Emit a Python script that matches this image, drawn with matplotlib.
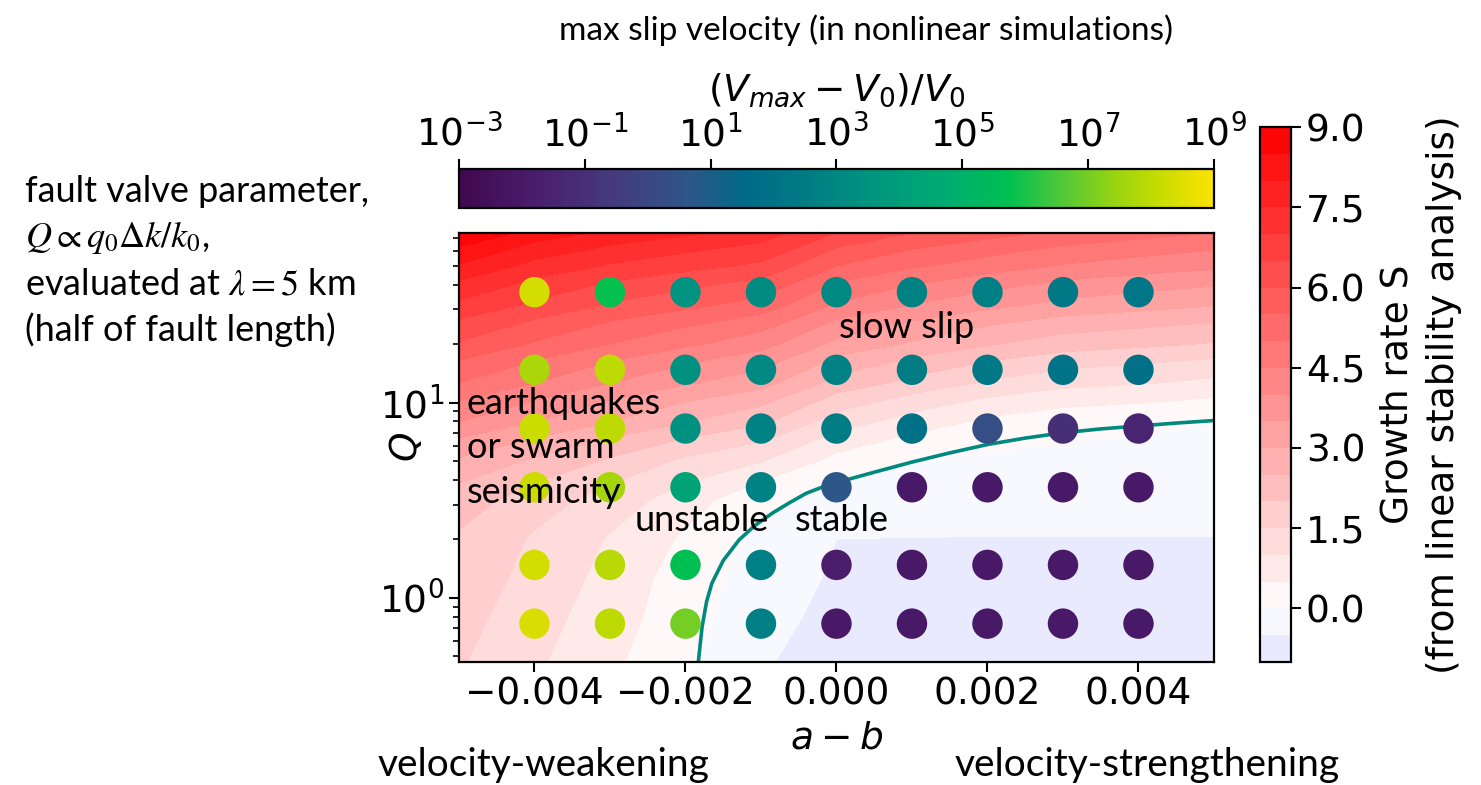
import numpy as np
import matplotlib
matplotlib.use("Agg")
import matplotlib.pyplot as plt
from matplotlib.colors import LogNorm, LinearSegmentedColormap

# ---- growth rate field S ----
grid_ab = [-0.005, -0.004, -0.003, -0.002, -0.001, 0.0, 0.001, 0.002, 0.003, 0.004, 0.005]
grid_logQ = [-0.33, -0.1, 0.1, 0.3, 0.5, 0.7, 0.9, 1.1, 1.3, 1.5, 1.7, 1.87]
# rows follow grid_logQ, columns follow grid_ab
S_rows = [
    [1.55, 1.08, 0.60, 0.09, -0.45, -0.72, -0.82, -0.90, -0.95, -0.97, -0.98],
    [1.69, 1.21, 0.73, 0.20, -0.33, -0.64, -0.71, -0.76, -0.79, -0.80, -0.82],
    [1.82, 1.33, 0.84, 0.25, -0.25, -0.56, -0.61, -0.63, -0.65, -0.66, -0.66],
    [1.94, 1.44, 0.96, 0.42, -0.12, -0.50, -0.51, -0.51, -0.51, -0.51, -0.51],
    [2.25, 1.75, 1.27, 0.75, 0.11, -0.14, -0.26, -0.30, -0.32, -0.33, -0.34],
    [2.92, 2.42, 1.92, 1.40, 1.03, 0.33, 0.00, -0.09, -0.14, -0.15, -0.17],
    [4.00, 3.50, 3.00, 2.52, 2.10, 1.26, 0.77, 0.39, 0.19, 0.10, -0.01],
    [5.00, 4.50, 4.00, 3.56, 3.20, 2.32, 1.85, 1.44, 1.16, 1.04, 0.88],
    [5.95, 5.45, 5.00, 4.60, 4.20, 3.38, 2.93, 2.55, 2.26, 2.12, 1.96],
    [6.90, 6.40, 5.95, 5.64, 5.30, 4.44, 4.00, 3.65, 3.36, 3.20, 3.04],
    [7.95, 7.35, 6.95, 6.68, 6.40, 5.50, 5.08, 4.76, 4.46, 4.28, 4.12],
    [9.00, 8.30, 7.90, 7.60, 7.30, 6.50, 6.00, 5.70, 5.40, 5.20, 5.00],
]

# ---- stability boundary S = 0 ----
line_ab = [-0.00185, -0.00183, -0.00178, -0.00172, -0.00165, -0.00150, -0.00129,
           -0.00108, -0.00085, -0.00062, -0.0004, -0.0002, 0.0, 0.0005, 0.001,
           0.0015, 0.002, 0.0025, 0.003, 0.0035, 0.004, 0.0045, 0.005]
line_logQ = [-0.40, -0.33, -0.15, -0.02, 0.074, 0.19, 0.296, 0.37, 0.433, 0.487,
             0.535, 0.565, 0.59, 0.643, 0.695, 0.742, 0.785, 0.818, 0.845, 0.865,
             0.880, 0.895, 0.908]

# ---- nonlinear simulations ----
sim_ab = [-0.004, -0.003, -0.002, -0.001, 0.0, 0.001, 0.002, 0.003, 0.004]
sim_Q = [0.736, 1.472, 3.68, 7.36, 14.72, 36.8]
# log10((Vmax - V0)/V0), rows follow sim_Q
vmax_exp = [
    [8.4, 8.0, 7.0, 2.6, -2.0, -2.0, -2.0, -2.0, -2.0],
    [8.3, 7.9, 5.7, 2.6, -1.8, -2.0, -2.0, -2.0, -2.0],
    [8.2, 7.6, 4.3, 2.7, 0.7, -2.0, -2.0, -2.0, -2.0],
    [8.2, 8.0, 3.4, 2.7, 2.5, 1.9, 0.3, -1.0, -1.5],
    [7.7, 8.0, 3.4, 3.0, 2.7, 2.5, 2.3, 2.1, 1.9],
    [8.3, 5.8, 3.5, 3.2, 3.0, 2.7, 2.6, 2.3, 2.2],
]

S_levels = np.linspace(-1, 9, 21)
S_ticks = [0.0, 1.5, 3.0, 4.5, 6.0, 7.5, 9.0]
v_ticks = [1e-3, 1e-1, 1e1, 1e3, 1e5, 1e7, 1e9]

vcmap = LinearSegmentedColormap.from_list("vmax", [
    (0.00, "#40084f"), (0.10, "#4a1d6c"), (0.20, "#45397c"), (0.30, "#2f5588"),
    (0.38, "#006a88"), (0.45, "#007a85"), (0.55, "#00957f"), (0.65, "#00ad70"),
    (0.73, "#00c050"), (0.80, "#50c838"), (0.87, "#98d410"), (0.93, "#c8dc00"),
    (1.00, "#fce300")])

plt.rcParams["font.family"] = "DejaVu Sans"
plt.rcParams["mathtext.fontset"] = "dejavusans"
TXT = "Lato"
fs = 27      # DejaVu ticks and labels
fs_txt = 26  # annotations

fig = plt.figure(figsize=(14.81, 7.85), dpi=100)
ax = fig.add_axes([0.3099, 0.1567, 0.5098, 0.5465])

AB, LQ = np.meshgrid(grid_ab, grid_logQ)
cf = ax.contourf(AB, 10.0 ** LQ, np.array(S_rows), levels=S_levels,
                 cmap="bwr", vmin=-9, vmax=9)
ax.plot(line_ab, 10.0 ** np.array(line_logQ), color="#00897e", lw=2.6, zorder=2)

SX, SQ = np.meshgrid(sim_ab, sim_Q)
sc = ax.scatter(SX.ravel(), SQ.ravel(), c=10.0 ** np.array(vmax_exp).ravel(),
                cmap=vcmap, norm=LogNorm(1e-3, 1e9), s=480, edgecolors="none", zorder=3)

ax.set_yscale("log")
ax.set_xlim(-0.005, 0.005)
ax.set_ylim(0.468, 74)
ax.set_xticks([-0.004, -0.002, 0.0, 0.002, 0.004])
ax.tick_params(which="major", labelsize=fs, length=7, width=1.5)
ax.tick_params(which="minor", length=4, width=1.2)
for sp in ax.spines.values():
    sp.set_linewidth(1.6)
ax.set_xlabel("$a-b$", fontsize=fs, labelpad=6)
ax.set_ylabel("$Q$", fontsize=fs)
ax.yaxis.set_label_coords(-0.045, 0.5)

# in-plot annotations
ax.text(0.00004, 24.2, "slow slip", family=TXT, fontsize=fs_txt, va="center")
ax.text(-0.0049, 5.86, "earthquakes\nor swarm\nseismicity", family=TXT,
        fontsize=fs_txt, va="center", linespacing=1.42)
ax.text(-0.00267, 2.5, "unstable", family=TXT, fontsize=fs_txt, va="center")
ax.text(-0.00055, 2.5, "stable", family=TXT, fontsize=fs_txt, va="center")

# top colorbar: max slip velocity
cax_t = fig.add_axes([0.3099, 0.7350, 0.5098, 0.0497])
cb_t = fig.colorbar(sc, cax=cax_t, orientation="horizontal", ticks=v_ticks)
cax_t.xaxis.set_ticks_position("top")
cax_t.xaxis.set_label_position("top")
cb_t.ax.minorticks_off()
cb_t.ax.tick_params(labelsize=fs, length=7, width=1.5)
cb_t.outline.set_linewidth(1.6)
cb_t.set_label("$(V_{max}-V_0)/V_0$", fontsize=fs, labelpad=10)

# right colorbar: growth rate
cax_r = fig.add_axes([0.8508, 0.1567, 0.0210, 0.6815])
cb_r = fig.colorbar(cf, cax=cax_r, ticks=S_ticks, format="%.1f")
cb_r.ax.tick_params(labelsize=fs, length=7, width=1.5)
cb_r.outline.set_linewidth(1.6)
cb_r.set_label("Growth rate S\n(from linear stability analysis)", fontsize=fs,
               linespacing=1.4, labelpad=10)

# figure-level texts
fig.text(0.585, 1 - 30 / 785, "max slip velocity (in nonlinear simulations)",
         family=TXT, fontsize=24, ha="center", va="center")
left_lines = ["fault valve parameter,", r"$Q \propto q_0\Delta k/k_0$,",
              r"evaluated at $\lambda = 5$ km", "(half of fault length)"]
for i, s in enumerate(left_lines):
    fig.text(0.017, 1 - (192 + 46 * i) / 785, s, family=TXT, fontsize=fs_txt,
             math_fontfamily="stix", ha="left", va="center")
fig.text(543 / 1481, 1 - 765 / 785, "velocity-weakening", family=TXT, fontsize=28,
         ha="center", va="center")
fig.text(1147 / 1481, 1 - 765 / 785, "velocity-strengthening", family=TXT, fontsize=28,
         ha="center", va="center")

fig.savefig("out.png", dpi=100)
